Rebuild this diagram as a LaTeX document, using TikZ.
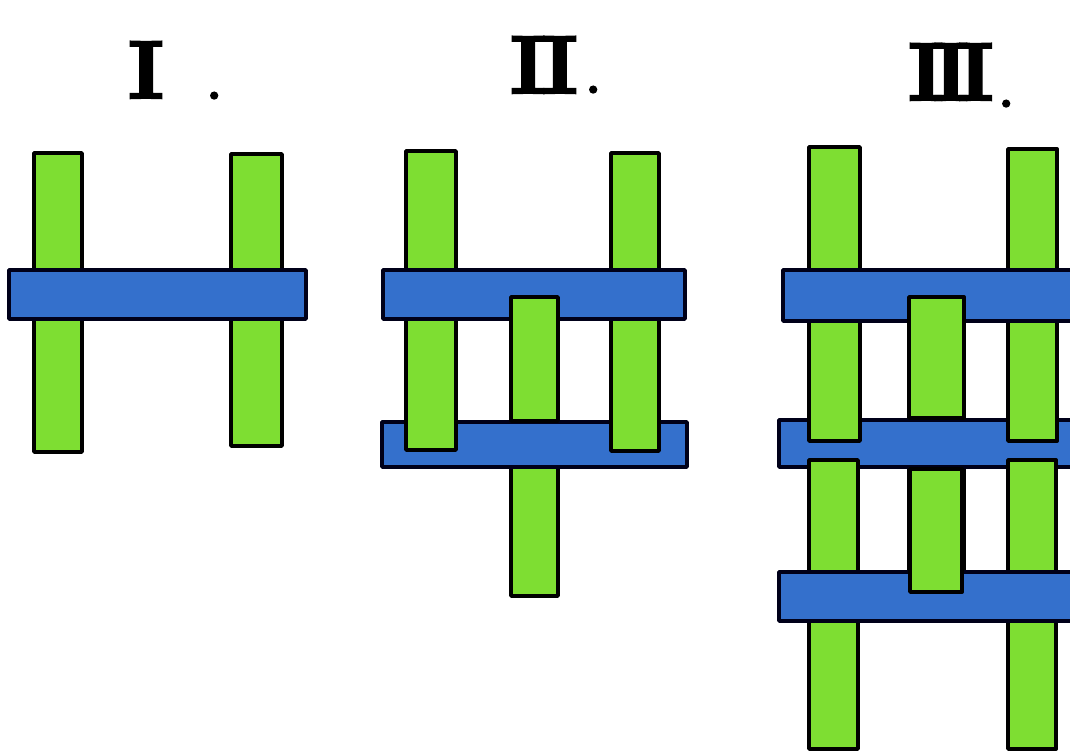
\documentclass[tikz,border=0pt]{standalone}
\usepackage{fontspec}
\newfontfamily\heavyfont{lmroman10-bold}[Extension=.otf,FakeBold=3]
\begin{document}
\begin{tikzpicture}[x=1pt,y=-1pt,
  gbar/.style={fill=strandgreen,draw=black,line width=3.8pt,line join=round},
  bbar/.style={fill=strandblue,draw=black!90!blue,line width=3.8pt,line join=round},
  numeral/.style={font=\fontsize{82}{82}\heavyfont,inner sep=0pt,anchor=base west},
  dotmark/.style={font=\fontsize{44}{44}\heavyfont,inner sep=0pt,anchor=base west}]
\definecolor{strandgreen}{RGB}{126,222,50}
\definecolor{strandblue}{RGB}{52,112,204}
\useasboundingbox (0,0) rectangle (1070,755);
\fill[white] (0,0) rectangle (1070,755);

% ---------- labels ----------
\node[numeral] (n1) at (128,98) {I};
\node[dotmark] (p1) at (207,99) {.};
\node[numeral] (n2) at (510,93) {I\kern-4pt I};
\node[dotmark] (p2) at (586,93) {.};
\node[numeral] (n3) at (908,100) {I\kern-11pt I\kern-11pt I};
\node[dotmark] (p3) at (999,107) {.};

% ---------- Panel I ----------
\draw[gbar] (34,153) rectangle (82,452);
\draw[gbar] (231,154) rectangle (282,446);
\draw[bbar] (9,270) rectangle (306,319);

% ---------- Panel II ----------
\draw[gbar] (511,297) rectangle (558,596);      % middle strand
\draw[bbar] (382,422) rectangle (687,467);      % lower weft
\draw[gbar] (406,151) rectangle (456,450);      % left strand
\draw[gbar] (611,153) rectangle (659,451);      % right strand
\draw[bbar] (383,270) rectangle (685,319);      % upper weft
\draw[gbar] (511,297) rectangle (558,421);      % middle strand over upper weft

% ---------- Panel III ----------
\draw[gbar] (909,297) rectangle (964,592);      % middle strand
\draw[bbar] (779,420) rectangle (1076,467);     % middle weft
\draw[gbar] (809,147) rectangle (860,441);      % left strand, upper
\draw[gbar] (809,460) rectangle (858,749);      % left strand, lower
\draw[gbar] (1008,149) rectangle (1057,441);    % right strand, upper
\draw[gbar] (1008,460) rectangle (1056,749);    % right strand, lower
\draw[bbar] (783,270) rectangle (1076,321);     % upper weft
\draw[gbar] (909,297) rectangle (964,418);      % middle strand over upper weft
\draw[bbar] (779,572) rectangle (1076,621);     % lower weft
\draw[gbar] (910,469) rectangle (962,592);      % middle strand over lower weft
\end{tikzpicture}
\end{document}
